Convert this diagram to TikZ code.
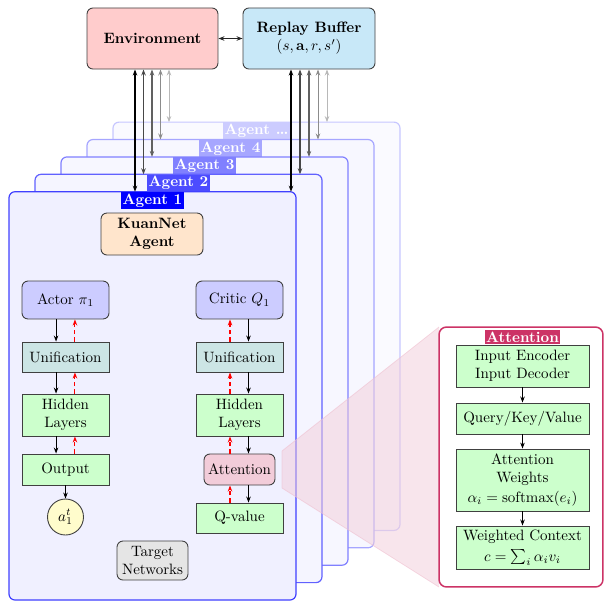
\documentclass[tikz,border=0pt]{standalone}
\usetikzlibrary{arrows.meta,calc}
\definecolor{rbfill}{RGB}{200,232,248}
\begin{document}
\begin{tikzpicture}[x=0.6667pt,y=-0.6667pt,
  box/.style={draw=black!75, line width=0.6pt, align=center, inner sep=2pt},
  rbox/.style={box, rounded corners=4pt},
  flow/.style={-{Stealth[length=4pt,width=3pt]}, line width=0.6pt, black},
  backflow/.style={-{Stealth[length=4pt,width=3pt]}, line width=0.7pt, red, dash pattern=on 3pt off 2pt},
  agentlbl/.style={text=white, font=\bfseries, inner xsep=1pt, inner ysep=1.2pt, anchor=north},
  envarr/.style={{Stealth[length=4pt,width=3pt]}-{Stealth[length=4pt,width=3pt]}},
  colw/.style={minimum width=58pt}
]
\useasboundingbox (0,0) rectangle (604,602);

% top boxes
\node[rbox, fill=red!20, minimum width=87.3pt, minimum height=40.7pt, font=\bfseries] (env) at (152.5,38.5) {Environment};
\node[rbox, fill=rbfill, minimum width=88pt, minimum height=40.7pt] (rb) at (309,38.5) {\textbf{Replay Buffer}\\$(s,\mathbf{a},r,s')$};
\draw[envarr, line width=0.8pt, black!85] (env) -- (rb);

% agent boxes (back to front)
\foreach \k/\bc/\lc/\fc/\txt in {5/blue!22/blue!20/blue!2/Agent \ldots, 4/blue!35/blue!35/blue!3/Agent 4, 3/blue!50/blue!50/blue!3/Agent 3, 2/blue!62/blue!70/blue!4/Agent 2, 1/blue!75/blue/blue!6/Agent 1}{
  \pgfmathsetmacro{\xa}{9+26*(\k-1)}
  \pgfmathsetmacro{\xb}{296+26*(\k-1)}
  \pgfmathsetmacro{\ya}{191.7-17.4*(\k-1)}
  \pgfmathsetmacro{\yb}{600-17.4*(\k-1)}
  \draw[draw=\bc, fill=\fc, line width=0.8pt, rounded corners=4pt] (\xa,\ya) rectangle (\xb,\yb);
  \node[agentlbl, fill=\lc] (lbl\k) at ({(\xa+\xb)/2},\ya) {\txt};
  \coordinate (ea\k) at ({135+8.5*(\k-1)},\ya);
  \coordinate (ra\k) at ({291+9*(\k-1)},\ya);
}

% environment / replay arrows
\foreach \k/\c/\w in {5/black!28/0.6pt, 4/black!45/0.6pt, 3/black!62/0.75pt, 2/black!72/0.75pt, 1/black/0.9pt}{
  \draw[envarr, draw=\c, line width=\w] (env.south -| ea\k) -- (ea\k);
  \draw[envarr, draw=\c, line width=\w] (rb.south -| ra\k) -- (ra\k);
}

% agent 1 internals
\node[rbox, fill=orange!20, minimum width=68pt, minimum height=28pt, font=\bfseries] (kuan) at (152,234) {KuanNet\\Agent};

\node[rbox, fill=blue!20, colw, minimum height=25.3pt] (actor) at (65.5,300) {Actor $\pi_1$};
\node[box, fill=teal!20, colw, minimum height=20pt] (uni1) at (65.5,357) {Unification};
\node[box, fill=green!20, colw, minimum height=28pt] (hid1) at (65.5,415) {Hidden\\Layers};
\node[box, fill=green!20, colw, minimum height=20.7pt] (out) at (65.5,469.5) {Output};
\node[draw=black!75, line width=0.6pt, fill=yellow!20, circle, minimum size=24pt, inner sep=0pt] (act) at (65.5,517) {$a_1^t$};

\node[rbox, fill=blue!20, colw, minimum height=25.3pt] (critic) at (239.5,300) {Critic $Q_1$};
\node[box, fill=teal!20, colw, minimum height=20pt] (uni2) at (239.5,357) {Unification};
\node[box, fill=green!20, colw, minimum height=28pt] (hid2) at (239.5,415) {Hidden\\Layers};
\node[rbox, fill=purple!20, minimum width=47.3pt, minimum height=20.7pt] (att) at (239.5,469.5) {Attention};
\node[box, fill=green!20, colw, minimum height=20pt] (qv) at (239.5,518) {Q-value};

\node[rbox, fill=gray!20, minimum width=47.3pt, minimum height=26pt] (tgt) at (152.5,560.5) {Target\\Networks};

% left column arrows
\foreach \a/\b in {actor/uni1, uni1/hid1, hid1/out}{
  \draw[flow] ([xshift=-6.3pt]\a.south) -- ([xshift=-6.3pt]\b.north);
  \draw[backflow] ([xshift=6.3pt]\b.north) -- ([xshift=6.3pt]\a.south);
}
\draw[flow] (out) -- (act);

% right column arrows
\foreach \a/\b in {critic/uni2, uni2/hid2, hid2/att, att/qv}{
  \draw[flow] (\a.south -| 248.5,0) -- (\b.north -| 248.5,0);
  \draw[backflow] (\b.north -| 230,0) -- (\a.south -| 230,0);
}

% zoom wedge
\coordinate (wa) at (282,451);
\coordinate (wb) at (282,488);
\coordinate (wc) at (439,327);
\coordinate (wd) at (439,587);
\fill[purple!20, fill opacity=0.5] (wa) -- (wc) -- (wd) -- (wb) -- cycle;
\draw[purple!25, line width=0.5pt, opacity=0.6] (wa) -- (wc) (wb) -- (wd) (wa) -- (wb);

% attention panel
\node[draw=purple!80, line width=1pt, rounded corners=5pt, fill=white, minimum width=109.3pt, minimum height=173.3pt] (panel) at (521,457) {};
\node[fill=purple!80, text=white, font=\bfseries, inner xsep=1pt, inner ysep=1.2pt, anchor=north] (plbl) at (522.5,329.5) {Attention};
\node[box, fill=green!20, minimum width=88.7pt, minimum height=28pt] (ie) at (522.5,366) {Input Encoder\\Input Decoder};
\node[box, fill=green!20, minimum width=88.7pt, minimum height=20.7pt] (qkv) at (522.5,418.5) {Query/Key/Value};
\node[box, fill=green!20, minimum width=88.7pt, minimum height=41.3pt] (aw) at (522.5,480) {Attention\\Weights\\[1pt]$\alpha_i=\mathrm{softmax}(e_i)$};
\node[box, fill=green!20, minimum width=88.7pt, minimum height=28.7pt] (wcx) at (522.5,547.5) {Weighted Context\\[2pt]$c=\sum_i \alpha_i v_i$};
\draw[flow] (ie) -- (qkv);
\draw[flow] (qkv) -- (aw);
\draw[flow] (aw) -- (wcx);
\end{tikzpicture}
\end{document}
